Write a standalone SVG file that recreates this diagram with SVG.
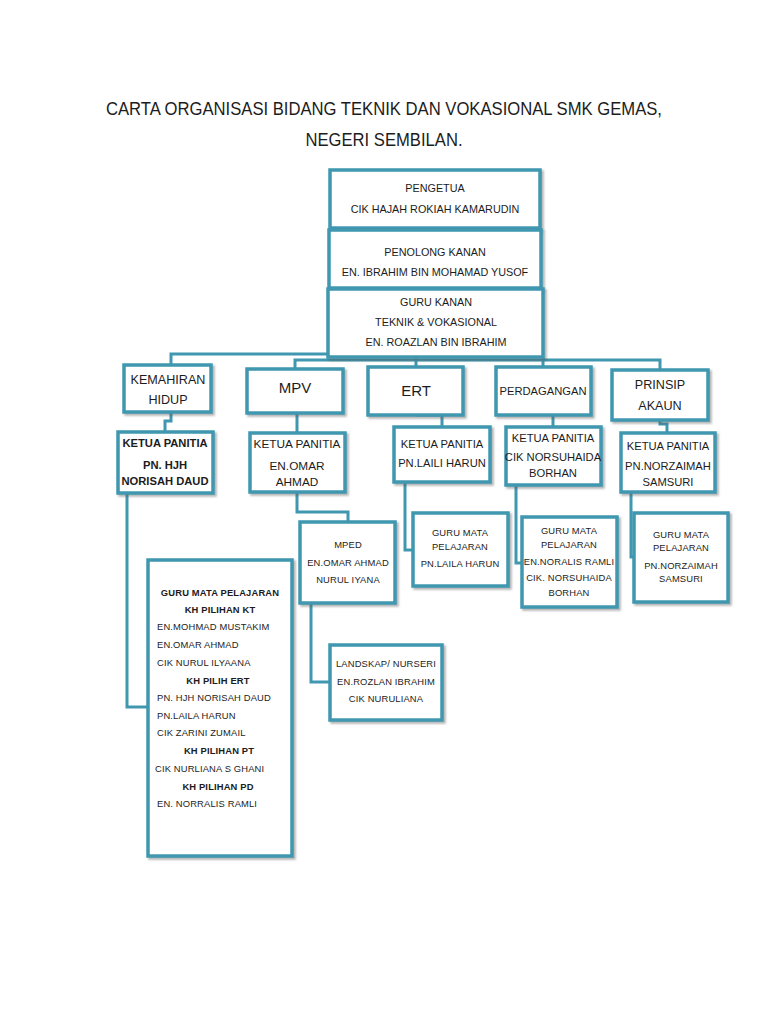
<svg xmlns="http://www.w3.org/2000/svg" width="768" height="1024" viewBox="0 0 768 1024">
<defs>
<filter id="sh" x="-10%" y="-10%" width="125%" height="125%">
<feDropShadow dx="2" dy="2" stdDeviation="1.2" flood-color="#555" flood-opacity="0.45"/>
</filter>
<style>
.box{fill:#fff;stroke:#3f97b0;stroke-width:3.5;filter:url(#sh)}
.ln{fill:none;stroke:#3f97b0;stroke-width:3}
text{font-family:"Liberation Sans",Arial,sans-serif;fill:#1c1c1c;text-anchor:middle}
.t{font-size:18px}
.s9{font-size:9.4px;letter-spacing:0.15px}
.s10b{font-size:10.8px}
.s11{font-size:11.2px}
.s115{font-size:11.8px}
.s12{font-size:12.6px}
.s14{font-size:15px}
.b{font-weight:bold}
.l{text-anchor:start}
</style>
</defs>
<rect width="768" height="1024" fill="#fff"/>
<g id="title">
<text class="t" x="384" y="115" textLength="556" lengthAdjust="spacingAndGlyphs">CARTA ORGANISASI BIDANG TEKNIK DAN VOKASIONAL SMK GEMAS,</text>
<text class="t" x="384" y="146" textLength="157" lengthAdjust="spacingAndGlyphs">NEGERI SEMBILAN.</text>
</g>
<g id="connectors">
<path class="ln" d="M328,354 H171 V365"/>
<path class="ln" d="M295,369 V360 H660 V370"/>
<path class="ln" d="M416,358 V367"/>
<path class="ln" d="M543,358 V367"/>
<path class="ln" d="M171,412 V421 H165 V432"/>
<path class="ln" d="M297,413 V433"/>
<path class="ln" d="M416,415 H442 V427"/>
<path class="ln" d="M553,415 V427"/>
<path class="ln" d="M660,420 V424 H667 V433"/>
<path class="ln" d="M297,492 V512 H348 V522"/>
<path class="ln" d="M405,482 V550 H413"/>
<path class="ln" d="M516,485 V563 H522"/>
<path class="ln" d="M631,492 V557 H634"/>
<path class="ln" d="M127,493 V707 H148"/>
<path class="ln" d="M311,603 V682 H330"/>
</g>
<g id="pengetua">
<rect class="box" x="330" y="170" width="210" height="58"/>
<text class="s10b" x="435" y="192">PENGETUA</text>
<text class="s10b" x="435" y="213">CIK HAJAH ROKIAH KAMARUDIN</text>
</g>
<g id="penolong-kanan">
<rect class="box" x="329" y="230" width="212" height="58"/>
<text class="s10b" x="435" y="256">PENOLONG KANAN</text>
<text class="s10b" x="435" y="276">EN. IBRAHIM BIN MOHAMAD YUSOF</text>
</g>
<g id="guru-kanan">
<rect class="box" x="328" y="289" width="215" height="68"/>
<text class="s10b" x="436" y="306">GURU KANAN</text>
<text class="s10b" x="436" y="326">TEKNIK  &amp; VOKASIONAL</text>
<text class="s10b" x="436" y="346">EN. ROAZLAN BIN IBRAHIM</text>
</g>
<g id="kemahiran-hidup">
<rect class="box" x="124" y="365" width="87" height="47"/>
<text class="s12" x="168" y="384">KEMAHIRAN</text>
<text class="s12" x="168" y="404">HIDUP</text>
</g>
<g id="mpv">
<rect class="box" x="247" y="369" width="96" height="44"/>
<text class="s14" x="295" y="393">MPV</text>
</g>
<g id="ert">
<rect class="box" x="368" y="367" width="95" height="48"/>
<text class="s14" x="416" y="396">ERT</text>
</g>
<g id="perdagangan">
<rect class="box" x="496" y="367" width="95" height="48"/>
<text class="s11" x="543" y="395">PERDAGANGAN</text>
</g>
<g id="prinsip-akaun">
<rect class="box" x="612" y="370" width="96" height="50"/>
<text class="s12" x="660" y="389">PRINSIP</text>
<text class="s12" x="660" y="410">AKAUN</text>
</g>
<g id="ketua-kh">
<rect class="box" x="118" y="432" width="95" height="61"/>
<text class="s11 b" x="165" y="447">KETUA PANITIA</text>
<text class="s11 b" x="165" y="469">PN. HJH</text>
<text class="s11 b" x="165" y="485">NORISAH DAUD</text>
</g>
<g id="ketua-mpv">
<rect class="box" x="250" y="433" width="95" height="59"/>
<text class="s115" x="297" y="448">KETUA PANITIA</text>
<text class="s115" x="297" y="470">EN.OMAR</text>
<text class="s115" x="297" y="486">AHMAD</text>
</g>
<g id="ketua-ert">
<rect class="box" x="394" y="427" width="96" height="55"/>
<text class="s11" x="442" y="448">KETUA PANITIA</text>
<text class="s11" x="442" y="467">PN.LAILI HARUN</text>
</g>
<g id="ketua-perdagangan">
<rect class="box" x="506" y="427" width="95" height="58"/>
<text class="s11" x="553" y="442">KETUA PANITIA</text>
<text class="s11" x="553" y="461">CIK NORSUHAIDA</text>
<text class="s11" x="553" y="477">BORHAN</text>
</g>
<g id="ketua-prinsip">
<rect class="box" x="621" y="433" width="94" height="59"/>
<text class="s11" x="668" y="450">KETUA PANITIA</text>
<text class="s11" x="668" y="470">PN.NORZAIMAH</text>
<text class="s11" x="668" y="486">SAMSURI</text>
</g>
<g id="mped">
<rect class="box" x="300" y="522" width="95" height="81"/>
<text class="s9" x="348" y="548">MPED</text>
<text class="s9" x="348" y="566">EN.OMAR AHMAD</text>
<text class="s9" x="348" y="583">NURUL IYANA</text>
</g>
<g id="guru-ert">
<rect class="box" x="413" y="513" width="95" height="73"/>
<text class="s9" x="460" y="536">GURU MATA</text>
<text class="s9" x="460" y="550">PELAJARAN</text>
<text class="s9" x="460" y="567">PN.LAILA  HARUN</text>
</g>
<g id="guru-perdagangan">
<rect class="box" x="522" y="517" width="95" height="90"/>
<text class="s9" x="569" y="534">GURU MATA</text>
<text class="s9" x="569" y="548">PELAJARAN</text>
<text class="s9" x="569" y="565">EN.NORALIS RAMLI</text>
<text class="s9" x="569" y="581">CIK. NORSUHAIDA</text>
<text class="s9" x="569" y="596">BORHAN</text>
</g>
<g id="guru-prinsip">
<rect class="box" x="634" y="513" width="94" height="89"/>
<text class="s9" x="681" y="538">GURU MATA</text>
<text class="s9" x="681" y="551">PELAJARAN</text>
<text class="s9" x="681" y="569">PN.NORZAIMAH</text>
<text class="s9" x="681" y="582">SAMSURI</text>
</g>
<g id="guru-kh">
<rect class="box" x="148" y="560" width="144" height="296"/>
<text class="s9 b" x="220" y="596">GURU MATA PELAJARAN</text>
<text class="s9 b" x="220" y="613">KH PILIHAN KT</text>
<text class="s9 l" x="157" y="630">EN.MOHMAD MUSTAKIM</text>
<text class="s9 l" x="157" y="648">EN.OMAR AHMAD</text>
<text class="s9 l" x="157" y="666">CIK NURUL ILYAANA</text>
<text class="s9 b" x="218" y="684">KH PILIH ERT</text>
<text class="s9 l" x="157" y="701">PN. HJH NORISAH DAUD</text>
<text class="s9 l" x="157" y="719">PN.LAILA HARUN</text>
<text class="s9 l" x="157" y="736">CIK ZARINI ZUMAIL</text>
<text class="s9 b" x="219" y="754">KH PILIHAN PT</text>
<text class="s9 l" x="155" y="772">CIK NURLIANA S  GHANI</text>
<text class="s9 b" x="218" y="790">KH PILIHAN PD</text>
<text class="s9 l" x="157" y="807">EN. NORRALIS RAMLI</text>
</g>
<g id="landskap">
<rect class="box" x="330" y="645" width="112" height="75"/>
<text class="s9" x="386" y="667">LANDSKAP/ NURSERI</text>
<text class="s9" x="386" y="685">EN.ROZLAN IBRAHIM</text>
<text class="s9" x="386" y="702">CIK NURULIANA</text>
</g>
</svg>
